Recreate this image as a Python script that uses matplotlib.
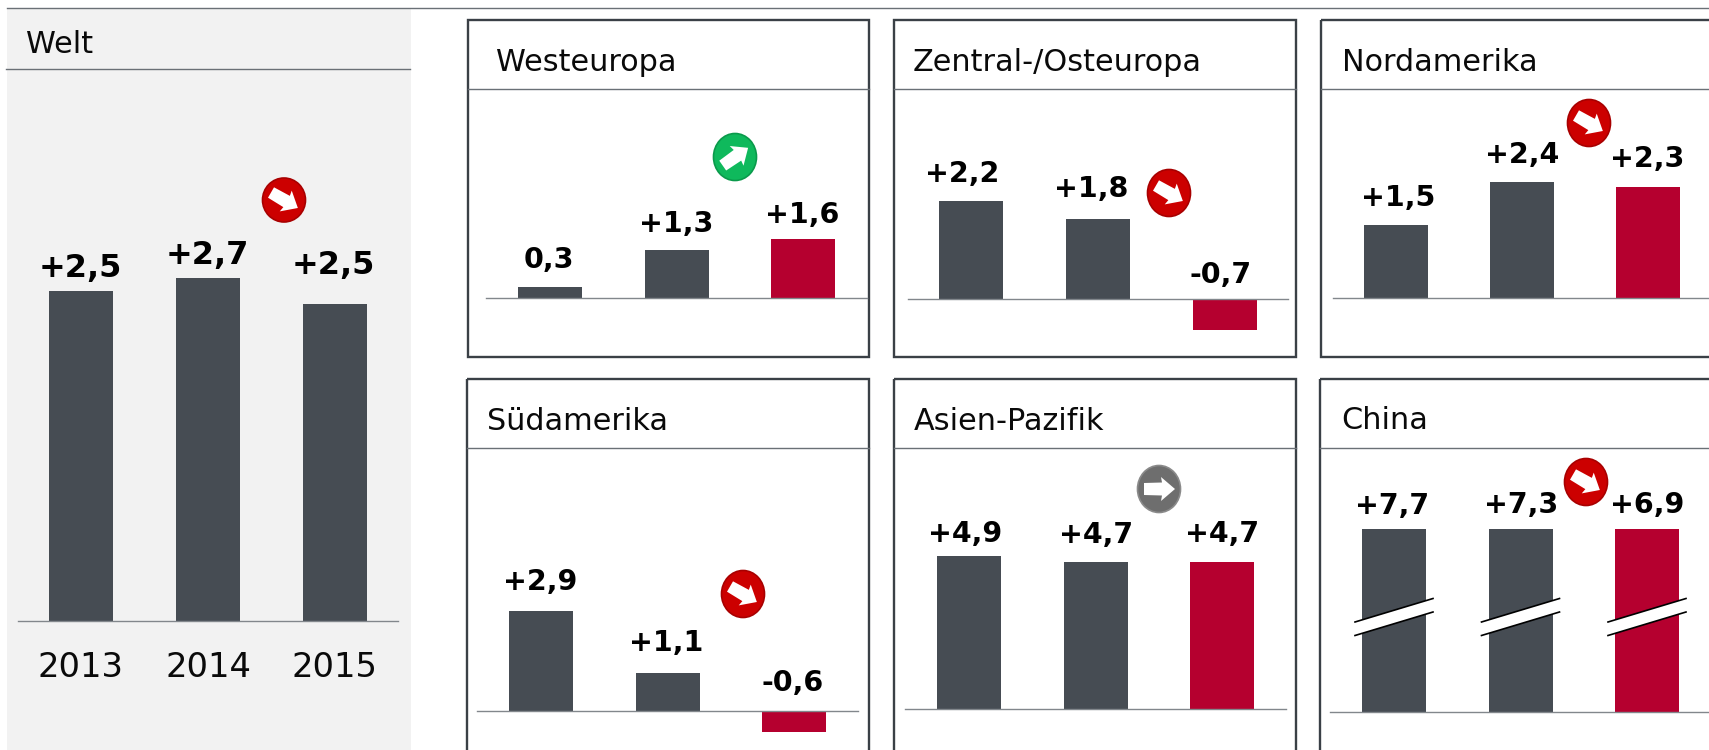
import numpy as np
import matplotlib
matplotlib.use("Agg")
import matplotlib.pyplot as plt
from matplotlib.patches import Rectangle, Ellipse, Polygon

W, H = 1709, 750

years = ["2013", "2014", "2015"]

welt_values = [2.5, 2.6, 2.4]
welt_labels = ["+2,5", "+2,7", "+2,5"]
west_values = [0.3, 1.3, 1.6]
west_labels = ["0,3", "+1,3", "+1,6"]
zentral_values = [2.2, 1.8, -0.7]
zentral_labels = ["+2,2", "+1,8", "-0,7"]
nord_values = [1.5, 2.4, 2.3]
nord_labels = ["+1,5", "+2,4", "+2,3"]
sued_values = [2.9, 1.1, -0.6]
sued_labels = ["+2,9", "+1,1", "-0,6"]
asien_values = [4.9, 4.7, 4.7]
asien_labels = ["+4,9", "+4,7", "+4,7"]
china_values = [7.7, 7.3, 6.9]
china_labels = ["+7,7", "+7,3", "+6,9"]

DARK = "#464c53"
RED = "#b5002f"
FRAME = "#3a4046"
LINE = "#6a7076"
BASE = "#82878c"

# layout in pixeln: c0/dx = balken, y0 = nulllinie, s = px pro einheit
panels = [
    dict(name="Westeuropa", v=west_values, l=west_labels, trend="up", c0=550, dx=126.5, y0=298, s=37,
         bx=(486, 867), lab=[(549, 268), (676, 232), (802, 223)], badge=(735, 157),
         box=(468, 869, 20, 89, 357), title=(496, 71)),
    dict(name="Zentral-/Osteuropa", v=zentral_values, l=zentral_labels, trend="down", c0=971, dx=127, y0=299, s=44.5,
         bx=(908, 1288), lab=[(962, 182), (1091, 197), (1221, 283)], badge=(1169, 193),
         box=(894, 1296, 20, 89, 357), title=(913, 71)),
    dict(name="Nordamerika", v=nord_values, l=nord_labels, trend="down", c0=1395.5, dx=126, y0=298, s=48.4,
         bx=(1333, 1709), lab=[(1398, 206), (1522, 163), (1647, 167)], badge=(1589, 123),
         box=(1320.5, 1730, 20, 89, 357), title=(1342, 71)),
    dict(name="Südamerika", v=sued_values, l=sued_labels, trend="down", c0=541, dx=126.5, y0=711, s=34.6,
         bx=(477, 858), lab=[(540, 590), (666, 651), (793, 691)], badge=(743, 594),
         box=(467, 868.5, 379, 448, 790), title=(487, 430)),
    dict(name="Asien-Pazifik", v=asien_values, l=asien_labels, trend="flat", c0=969, dx=126.5, y0=709, s=31.3,
         bx=(905, 1286), lab=[(965, 542), (1096, 543), (1222, 542)], badge=(1159, 489),
         box=(894, 1296, 379, 448, 790), title=(914, 430)),
    dict(name="China", v=china_values, l=china_labels, trend="down", c0=1394, dx=126.5, y0=712, s=30.5, cap=6.0,
         bx=(1330, 1709), lab=[(1392, 514), (1521, 513), (1647, 513)], badge=(1586, 482),
         box=(1320, 1730, 379, 448, 790), title=(1341, 429)),
]

BADGES = {
    "down": ("#cc0000", "#a80000", -30),
    "up": ("#0fb95c", "#0a9a4b", 35),
    "flat": ("#6e6e6e", "#8a8a8a", 0),
}
ARROW = np.array([[-15, -6], [3, -6.5], [2, -12], [16, 0], [2, 12], [3, 6.5], [-15, 6]], float)


def px_axes(zorder):
    ax = fig.add_axes([0, 0, 1, 1], zorder=zorder)
    ax.set_xlim(0, W)
    ax.set_ylim(H, 0)
    ax.axis("off")
    ax.patch.set_alpha(0)
    return ax


def bar_axes(c0, dx, y0, s, values, color_last, width=64, top=200, bottom=60):
    # achse so legen, dass position i bei c0 + i*dx und wert 0 bei y0 landet
    left = c0 - dx / 2
    ax = fig.add_axes([left / W, (H - y0 - bottom) / H, 3 * dx / W, (top + bottom) / H], zorder=2)
    ax.set_xlim(-0.5, 2.5)
    ax.set_ylim(-bottom / s, top / s)
    ax.axis("off")
    ax.patch.set_alpha(0)
    colors = [DARK, DARK, color_last]
    ax.bar(range(3), values, width=width / dx, color=colors, linewidth=0)
    return ax


def badge(ax, x, y, trend, ry=23.5):
    face, edge, angle = BADGES[trend]
    ax.add_patch(Ellipse((x, y), 43, ry * 2, facecolor=face, edgecolor=edge, linewidth=1.2, zorder=6))
    a = np.radians(-angle)
    rot = np.array([[np.cos(a), -np.sin(a)], [np.sin(a), np.cos(a)]])
    pts = ARROW @ rot.T + [x, y]
    ax.add_patch(Polygon(pts, closed=True, facecolor="white", edgecolor="none", zorder=7))


fig = plt.figure(figsize=(W / 100, H / 100), dpi=100, facecolor="white")
plt.rcParams["font.family"] = ["DejaVu Sans"]

bg = px_axes(0)
fg = px_axes(5)

# Welt
bg.add_patch(Rectangle((7, 9), 404, H - 9, facecolor="#f2f2f2", edgecolor="none"))
fg.plot([7, W], [8, 8], color=LINE, lw=1)
fg.plot([6, 410], [69, 69], color=LINE, lw=1)
fg.text(26, 53, "Welt", fontsize=21.8, color="#0a0a0a", va="baseline")
bar_axes(81, 127, 621, 132, welt_values, DARK, top=400)
fg.plot([18, 398], [621, 621], color=BASE, lw=1)
for lx, ly, t in zip([80, 207, 333], [277, 264, 274], welt_labels):
    fg.text(lx, ly, t, fontsize=23, fontweight="bold", color="black", ha="center", va="baseline")
for lx, t in zip([81, 208, 334], years):
    fg.text(lx, 677, t, fontsize=24.3, color="#0a0a0a", ha="center", va="baseline")
badge(fg, 284, 200, "down", ry=22)

# regionen
for p in panels:
    l, r, t, k, b = p["box"]
    fg.add_patch(Rectangle((l, t), r - l, b - t, facecolor="none", edgecolor=FRAME, linewidth=1.7))
    fg.plot([l, r], [k, k], color=LINE, lw=1)
    fg.text(p["title"][0], p["title"][1], p["name"], fontsize=21.8, color="#0a0a0a", va="baseline")

    vals = np.array(p["v"], float)
    if "cap" in p:
        vals = np.minimum(vals, p["cap"])
    bar_axes(p["c0"], p["dx"], p["y0"], p["s"], vals, RED)
    fg.plot(p["bx"], [p["y0"], p["y0"]], color=BASE, lw=1)

    for (lx, ly), txt in zip(p["lab"], p["l"]):
        fg.text(lx, ly, txt, fontsize=20.5, fontweight="bold", color="black", ha="center", va="baseline")
    badge(fg, p["badge"][0], p["badge"][1], p["trend"])

    if "cap" in p:
        # achsenbruch in den china-balken
        for i in range(3):
            cx = p["c0"] + i * p["dx"]
            xs = [cx - 39, cx + 39]
            fg.add_patch(Polygon([(xs[0], 622), (xs[1], 598.5), (xs[1], 612), (xs[0], 635.5)],
                                 closed=True, facecolor="white", edgecolor="none", zorder=3))
            fg.plot(xs, [622, 598.5], color="black", lw=1.2, zorder=4)
            fg.plot(xs, [635.5, 612], color="black", lw=1.2, zorder=4)

fig.savefig("out.png", dpi=100, facecolor="white")
